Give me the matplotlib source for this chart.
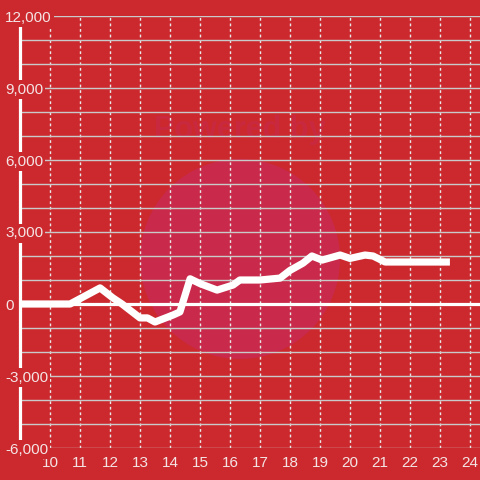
import matplotlib.pyplot as plt
from matplotlib.patches import Circle

# Chart colours
BG = '#CC292E'
TEXT = '#F4E4E4'
GRID = '#C9C9C9'
WATERMARK = '#C9294A'

# Values (hour of day vs amount)
hours = [9, 10.67, 11.67, 12.1, 12.4, 13.0, 13.25, 13.5, 14.1, 14.33,
         14.67, 15.0, 15.57, 16.1, 16.33, 17.0, 17.67, 18.0, 18.43, 18.73,
         19.07, 19.67, 20.0, 20.5, 20.77, 21.17, 23.33]
amounts = [0, 0, 670, 250, 0, -580, -580, -750, -460, -330,
           1050, 850, 580, 790, 1000, 1000, 1080, 1400, 1700, 2000,
           1830, 2040, 1900, 2040, 2000, 1750, 1750]

x_ticks = list(range(10, 25))
y_ticks = [-6000, -3000, 0, 3000, 6000, 9000, 12000]
y_labels = ['-6,000', '-3,000', '0', '3,000', '6,000', '9,000', '12,000']

plt.rcParams['font.family'] = ['Liberation Sans', 'DejaVu Sans']

fig = plt.figure(figsize=(4.8, 4.8), dpi=100, facecolor=BG)

# Faint watermark behind the chart
fig.patches.append(Circle((240 / 480, 1 - 259 / 480), 100 / 480,
                          transform=fig.transFigure, facecolor=WATERMARK,
                          edgecolor='none', zorder=0))
fig.text(0.5, 1 - 130 / 480, 'Powered by', ha='center', va='center',
         fontsize=22, fontweight='bold', color='#C9293E', zorder=0)

ax = fig.add_axes([20 / 480, 32 / 480, 460 / 480, 432 / 480], zorder=1)
ax.set_facecolor('none')

ax.plot(hours, amounts, color='white', lw=5.2, solid_joinstyle='round',
        solid_capstyle='butt', zorder=4)
ax.axhline(0, color='white', lw=2.3, zorder=3)

ax.set_xlim(9, 24.333)
ax.set_ylim(-6000, 12000)

# Grid: solid horizontal lines every 1000, dotted vertical ones each hour
for v in range(-6000, 12001, 1000):
    if v != 0:
        ax.axhline(v, color=GRID, lw=1, zorder=1)
ax.set_xticks(x_ticks)
ax.grid(axis='x', color='#E8E8E8', lw=1, ls=(0, (2, 2)))
ax.set_axisbelow(True)

ax.set_yticks([])
ax.tick_params(axis='x', length=0, pad=6, labelsize=11, labelcolor=TEXT)

# y labels sit over the spine with a box in the background colour
for v, lab in zip(y_ticks, y_labels):
    ax.text(-15 / 460, v, lab, transform=ax.get_yaxis_transform(),
            ha='left', va='center_baseline', fontsize=11, color=TEXT,
            zorder=6, clip_on=False,
            bbox=dict(facecolor=BG, edgecolor='none', pad=1.5))

for side in ['top', 'right', 'bottom']:
    ax.spines[side].set_visible(False)
ax.spines['left'].set_color('white')
ax.spines['left'].set_linewidth(2.3)

fig.savefig('out.png', dpi=100, facecolor=BG)
